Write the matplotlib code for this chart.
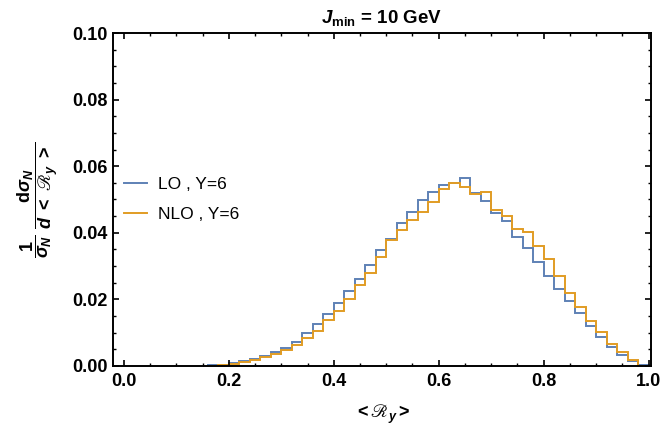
import numpy as np
import matplotlib
matplotlib.use("Agg")
import matplotlib.pyplot as plt

# histogram bins (width 0.02)
bin_start = 0.16
bin_width = 0.02
lo_y6 = [0.0002, 0.0004, 0.0008, 0.0016, 0.0022, 0.0030, 0.0042, 0.0055, 0.0073, 0.0098,
         0.0125, 0.0155, 0.0190, 0.0226, 0.0260, 0.0303, 0.0347, 0.0381, 0.0429, 0.0462,
         0.0497, 0.0521, 0.0543, 0.0549, 0.0564, 0.0520, 0.0495, 0.0458, 0.0436, 0.0388,
         0.0355, 0.0313, 0.0271, 0.0232, 0.0195, 0.0158, 0.0121, 0.0088, 0.0058, 0.0033,
         0.0015, 0.0003]
nlo_y6 = [0.0001, 0.0003, 0.0007, 0.0012, 0.0019, 0.0026, 0.0035, 0.0049, 0.0062, 0.0083,
          0.0105, 0.0137, 0.0164, 0.0202, 0.0243, 0.0279, 0.0326, 0.0379, 0.0408, 0.0437,
          0.0463, 0.0492, 0.0531, 0.0549, 0.0538, 0.0517, 0.0521, 0.0468, 0.0451, 0.0411,
          0.0401, 0.0361, 0.0321, 0.0269, 0.0218, 0.0178, 0.0135, 0.0101, 0.0065, 0.0041,
          0.0017, 0.0000]
labels = ["LO , Y=6", "NLO , Y=6"]
colors = ["#5E81B5", "#E19C24"]

plt.rcParams['font.family'] = ['Liberation Sans', 'DejaVu Sans']
plt.rcParams['mathtext.fontset'] = 'custom'
plt.rcParams['mathtext.rm'] = 'Liberation Sans:bold'
plt.rcParams['mathtext.bf'] = 'Liberation Sans:bold'
plt.rcParams['mathtext.it'] = 'Liberation Sans:italic:bold'
plt.rcParams['mathtext.fallback'] = 'stix'

edges = bin_start + bin_width * np.arange(len(lo_y6) + 1)

fig = plt.figure(figsize=(6.64, 4.26), dpi=100)
ax = fig.add_axes([0.170, 0.141, 0.810, 0.7815])

for vals, lab, col in zip([lo_y6, nlo_y6], labels, colors):
    ax.stairs(vals, edges, baseline=0, color=col, lw=1.4, label=lab)

ax.set_xlim(-0.021, 1.004)
ax.set_ylim(0, 0.1)
ax.set_xticks(np.arange(0, 1.01, 0.2))
ax.set_xticks(np.arange(0, 1.001, 0.05), minor=True)
ax.set_yticks(np.arange(0, 0.101, 0.02))
ax.set_yticks(np.arange(0, 0.1001, 0.005), minor=True)
ax.set_xticklabels(["%.1f" % v for v in np.arange(0, 1.01, 0.2)])
ax.set_yticklabels(["%.2f" % v for v in np.arange(0, 0.101, 0.02)])
ax.tick_params(which='both', direction='in', top=True, right=True, labelsize=13)
ax.tick_params(which='major', length=4, width=1.2)
ax.tick_params(which='minor', length=2.5, width=1.0)
ax.tick_params(axis='y', pad=4)
ax.tick_params(axis='x', pad=5)
for lbl in ax.get_xticklabels() + ax.get_yticklabels():
    lbl.set_fontweight('bold')
for sp in ax.spines.values():
    sp.set_linewidth(1.4)

ax.set_title(r'$J_{\mathrm{min}}$ = 10 GeV', fontsize=13.5, fontweight='bold', pad=7)
ax.set_xlabel(r'${<}ℛ_y{>}$', fontsize=13, fontweight='bold', labelpad=9)
ax.set_ylabel(r'$\dfrac{1}{\sigma_N}\ \dfrac{\mathrm{d}\sigma_N}{d\ {<}\ ℛ_y\ {>}}$', fontsize=13)
ax.yaxis.set_label_coords(-0.098, 0.5)

ax.legend(loc='center left', bbox_to_anchor=(0.008, 0.5), frameon=False,
          fontsize=12.5, handlelength=1.3, handletextpad=0.65, labelspacing=0.9,
          borderaxespad=0)

fig.savefig("out.png", dpi=100)
